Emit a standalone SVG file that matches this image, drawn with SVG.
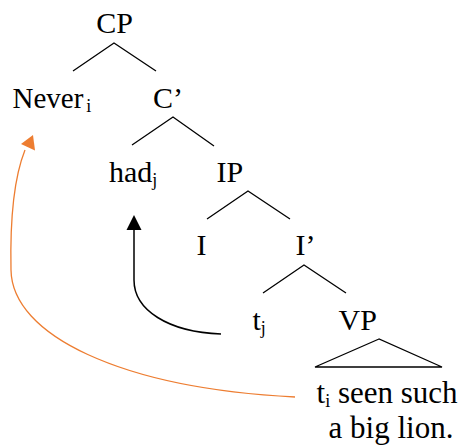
<svg xmlns="http://www.w3.org/2000/svg" width="466" height="448" viewBox="0 0 466 448">
<rect width="466" height="448" fill="#fff"/>
<g font-family="Liberation Serif" font-size="30" fill="#000">
<g id="CP"><text x="114.5" y="33" text-anchor="middle">CP</text></g>
<g id="Never"><text x="12.5" y="108" font-size="29">Never<tspan font-size="18" dx="3" dy="4">i</tspan></text></g>
<g id="Cbar"><text x="153" y="108">C’</text></g>
<g id="had"><text x="109" y="182">had<tspan font-size="18" dy="4">j</tspan></text></g>
<g id="IP"><text x="216.5" y="182">IP</text></g>
<g id="I"><text x="196.5" y="255">I</text></g>
<g id="Ibar"><text x="295.5" y="255">I’</text></g>
<g id="tj"><text x="252.5" y="330">t<tspan font-size="18" dy="4">j</tspan></text></g>
<g id="VP"><text x="338.5" y="330">VP</text></g>
<g id="phrase" font-size="31"><text x="316.5" y="403">t<tspan font-size="18" dy="4">i</tspan><tspan dy="-4"> seen such</tspan></text><text x="391" y="438" text-anchor="middle">a big lion.</text></g>
</g>
<g id="VPtri"><path d="M379,339 L315,367 L442,367 Z" fill="none" stroke="#000" stroke-width="1.3"/></g>
<g id="connectors" fill="none" stroke="#000" stroke-width="1.3">
<path d="M73,71 L114,43 L156,71"/>
<path d="M132,145 L173,117 L214,146"/>
<path d="M207,219 L248,191 L290,219"/>
<path d="M263,293 L304,265 L346,293"/>
<path d="M221,334 C168,332 134,310 134,280 L134,228" stroke-width="1.5"/>
<path d="M134,230 l-7.5,0 l7.5,-15 l7.5,15 z" fill="#000" stroke="none"/>
<path d="M295,397 C120,388 12,335 11,270 C10,222 13,180 25,150" stroke="#ED7D31"/>
<path d="M33,135 L35,150.5 L21,144 z" fill="#ED7D31" stroke="none"/>
</g>
</svg>
